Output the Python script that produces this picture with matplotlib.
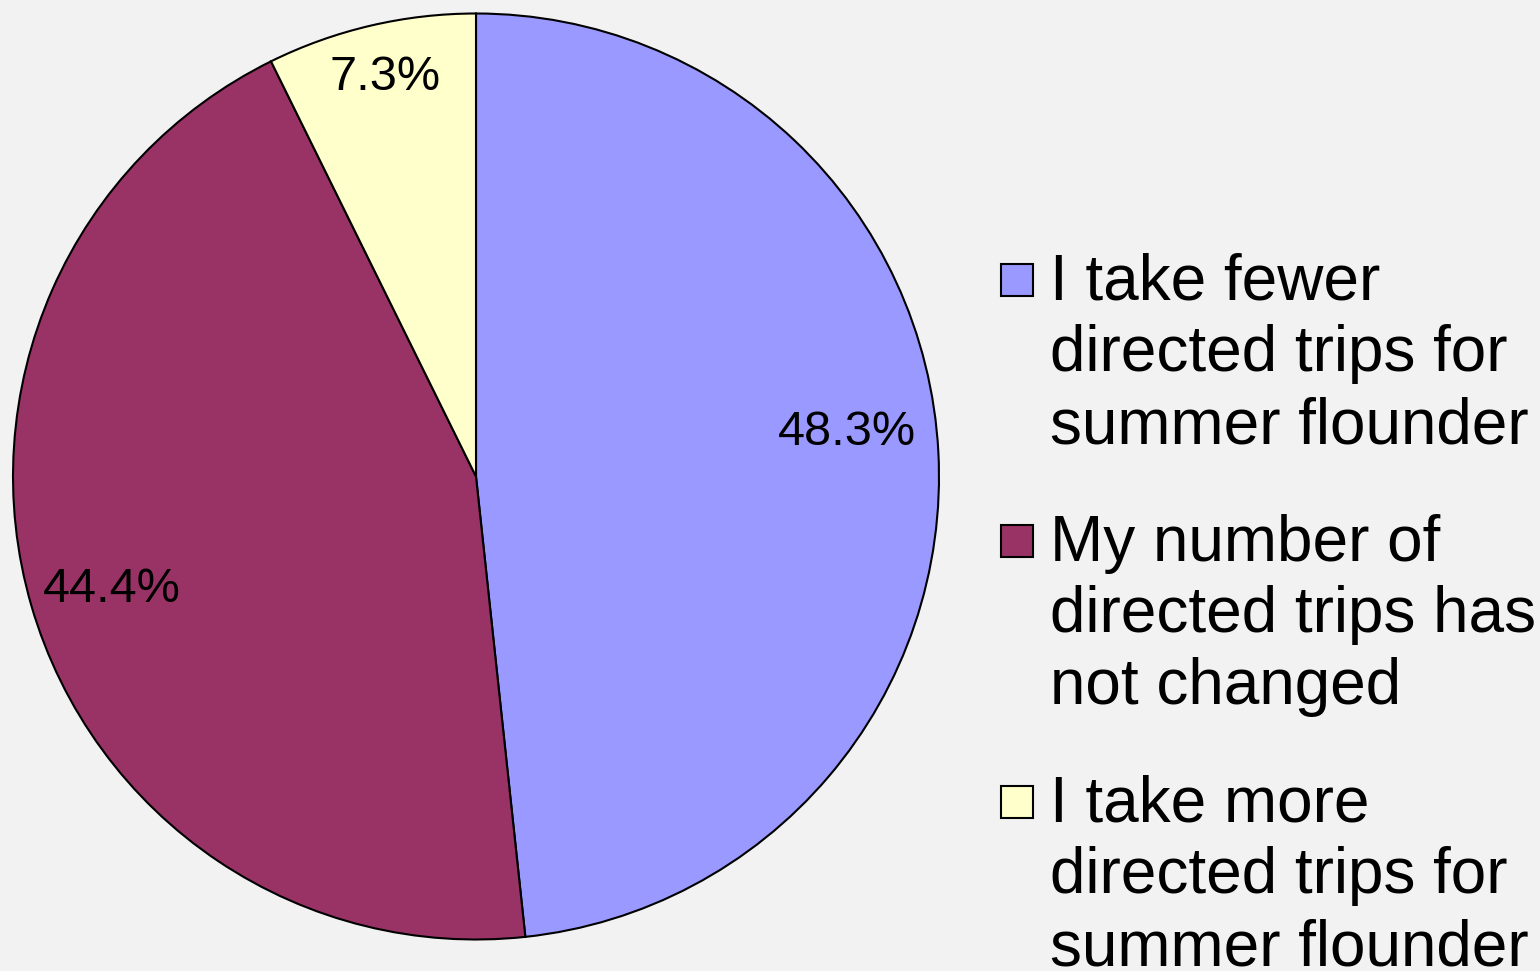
import matplotlib.pyplot as plt
from matplotlib.patches import Rectangle

plt.rcParams['font.family'] = ['Liberation Sans', 'DejaVu Sans']

labels = ["I take fewer\ndirected trips for\nsummer flounder",
          "My number of\ndirected trips has\nnot changed",
          "I take more\ndirected trips for\nsummer flounder"]
shares = [48.3, 44.4, 7.3]
colors = ["#9999FF", "#993366", "#FFFFCC"]

W, H = 1540, 971
fig = plt.figure(figsize=(W / 100, H / 100), dpi=100, facecolor="#F2F2F2")
ax = fig.add_axes([13 / W, 31.5 / H, 926 / W, 926 / H])
ax.set_facecolor("#F2F2F2")

wedges, texts, pcts = ax.pie(
    shares, colors=colors, startangle=90, counterclock=False,
    autopct="%.1f%%", pctdistance=0.81,
    wedgeprops=dict(edgecolor="black", linewidth=1.5),
    textprops=dict(fontsize=35, color="black"))
ax.set_xlim(-1, 1)
ax.set_ylim(-1, 1)
ax.set_aspect("equal")
ax.axis("off")

# nudge labels to where the reference puts them
pcts[2].set_position((-0.197, 0.862))
pcts[1].set_position((-0.786, -0.245))
pcts[0].set_position((0.801, 0.094))

# legend drawn by hand so the marker sits at the first line
line_h = 71.5
baselines = [300, 561, 822]
for lab, col, yb in zip(labels, colors, baselines):
    fig.patches.append(Rectangle((1001 / W, 1 - (yb - 4) / H), 32 / W, 32 / H,
                                 transform=fig.transFigure, facecolor=col,
                                 edgecolor="black", linewidth=1.5))
    last = yb + line_h * (lab.count("\n"))
    fig.text(1050 / W, 1 - last / H, lab, fontsize=46, va="baseline",
             ha="left", linespacing=1.25)

fig.savefig("out.png", dpi=100, facecolor=fig.get_facecolor())
